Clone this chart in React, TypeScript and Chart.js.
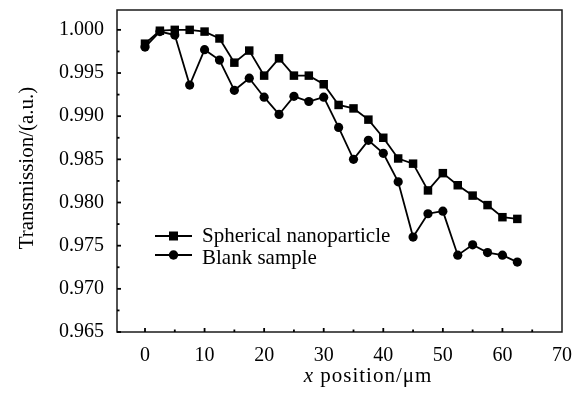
import React, { useEffect, useRef } from 'react';
import { Chart, registerables } from 'chart.js';

Chart.register(...registerables);

const xPositions = [0, 2.5, 5, 7.5, 10, 12.5, 15, 17.5, 20, 22.5, 25, 27.5, 30, 32.5, 35, 37.5, 40, 42.5, 45, 47.5, 50, 52.5, 55, 57.5, 60, 62.5];
const sphericalValues = [0.9984, 0.9999, 1.0000, 1.0000, 0.9998, 0.9990, 0.9962, 0.9976, 0.9947, 0.9967, 0.9947, 0.9947, 0.9937, 0.9913, 0.9909, 0.9896, 0.9875, 0.9851, 0.9845, 0.9814, 0.9834, 0.9820, 0.9808, 0.9797, 0.9783, 0.9781];
const blankValues = [0.9980, 0.9998, 0.9994, 0.9936, 0.9977, 0.9965, 0.9930, 0.9944, 0.9922, 0.9902, 0.9923, 0.9917, 0.9922, 0.9887, 0.9850, 0.9872, 0.9857, 0.9824, 0.9760, 0.9787, 0.9790, 0.9739, 0.9751, 0.9742, 0.9739, 0.9731];
const seriesLabels = ['Spherical nanoparticle', 'Blank sample'];
const yTickValues = [0.965, 0.970, 0.975, 0.980, 0.985, 0.990, 0.995, 1.000];
const yTickLabels = ['0.965', '0.970', '0.975', '0.980', '0.985', '0.990', '0.995', '1.000'];
const xTickValues = [0, 10, 20, 30, 40, 50, 60, 70];
const xTickLabels = ['0', '10', '20', '30', '40', '50', '60', '70'];
const yAxisTitle = 'Transmission/(a.u.)';
const xAxisTitleItalic = 'x';
const xAxisTitleRest = ' position/\u03bcm';

const FONT = '"Liberation Serif", "Times New Roman", serif';

const decorPlugin = {
  id: 'decor',
  afterDraw(chart: any) {
    const ctx = chart.ctx;
    const { left, right, top, bottom } = chart.chartArea;
    const xs = chart.scales.x;
    const ys = chart.scales.y;
    ctx.save();
    // frame
    ctx.strokeStyle = '#1a1a1a';
    ctx.lineWidth = 1.5;
    ctx.strokeRect(left, top, right - left, bottom - top);
    // ticks (inside)
    ctx.lineWidth = 1.8;
    ctx.strokeStyle = '#000';
    for (let i = 0; i < yTickValues.length; i++) {
      const py = ys.getPixelForValue(yTickValues[i]);
      ctx.beginPath();
      ctx.moveTo(left, py);
      ctx.lineTo(left + 4, py);
      ctx.stroke();
      if (i < yTickValues.length - 1) {
        const my = ys.getPixelForValue((yTickValues[i] + yTickValues[i + 1]) / 2);
        ctx.beginPath();
        ctx.moveTo(left, my);
        ctx.lineTo(left + 2.5, my);
        ctx.stroke();
      }
    }
    for (let i = 0; i < xTickValues.length; i++) {
      const px = xs.getPixelForValue(xTickValues[i]);
      if (px < right - 2) {
        ctx.beginPath();
        ctx.moveTo(px, bottom);
        ctx.lineTo(px, bottom - 4);
        ctx.stroke();
      }
      if (i < xTickValues.length - 1) {
        const mx = xs.getPixelForValue((xTickValues[i] + xTickValues[i + 1]) / 2);
        ctx.beginPath();
        ctx.moveTo(mx, bottom);
        ctx.lineTo(mx, bottom - 2.5);
        ctx.stroke();
      }
    }
    // y title
    ctx.fillStyle = '#000';
    ctx.font = '21px ' + FONT;
    ctx.textAlign = 'center';
    ctx.textBaseline = 'middle';
    ctx.save();
    ctx.translate(27, (top + bottom) / 2 - 3);
    ctx.rotate(-Math.PI / 2);
    ctx.fillText(yAxisTitle, 0, 0);
    ctx.restore();
    // x title
    ctx.save();
    (ctx as any).letterSpacing = '1px';
    ctx.font = 'italic 21px ' + FONT;
    const wi = ctx.measureText(xAxisTitleItalic).width;
    ctx.font = '21px ' + FONT;
    const wr = ctx.measureText(xAxisTitleRest).width;
    const cx = 368;
    const ty = 382;
    const sx = cx - (wi + wr) / 2;
    ctx.textAlign = 'left';
    ctx.textBaseline = 'alphabetic';
    ctx.font = 'italic 21px ' + FONT;
    ctx.fillText(xAxisTitleItalic, sx, ty);
    ctx.font = '21px ' + FONT;
    ctx.fillText(xAxisTitleRest, sx + wi, ty);
    ctx.restore();
    // legend
    const lineRows = [236, 255];
    const textRows = [242, 264];
    chart.data.datasets.forEach((ds: any, i: number) => {
      const ry = lineRows[i];
      ctx.strokeStyle = '#000';
      ctx.lineWidth = 1.8;
      ctx.beginPath();
      ctx.moveTo(155, ry);
      ctx.lineTo(192, ry);
      ctx.stroke();
      ctx.fillStyle = '#000';
      ctx.beginPath();
      if (ds.pointStyle === 'rect') {
        ctx.rect(173.5 - 4.5, ry - 4.5, 9, 9);
      } else {
        ctx.arc(173.5, ry, 4.7, 0, Math.PI * 2);
      }
      ctx.fill();
      ctx.font = '21px ' + FONT;
      ctx.textAlign = 'left';
      ctx.textBaseline = 'alphabetic';
      ctx.fillText(ds.label, 202, textRows[i]);
    });
    ctx.restore();
  },
};

export default function App() {
  const canvasRef = useRef<HTMLCanvasElement | null>(null);

  useEffect(() => {
    if (!canvasRef.current) return;
    const sph = xPositions.map((x, i) => ({ x, y: sphericalValues[i] }));
    const blk = xPositions.map((x, i) => ({ x, y: blankValues[i] }));
    const chart = new Chart(canvasRef.current, {
      type: 'line',
      data: {
        datasets: [
          {
            label: seriesLabels[0],
            data: sph,
            borderColor: '#000',
            backgroundColor: '#000',
            borderWidth: 1.8,
            pointStyle: 'rect',
            pointRadius: 6,
            pointBorderWidth: 0,
            tension: 0,
          },
          {
            label: seriesLabels[1],
            data: blk,
            borderColor: '#000',
            backgroundColor: '#000',
            borderWidth: 1.8,
            pointStyle: 'circle',
            pointRadius: 4.6,
            pointBorderWidth: 0,
            tension: 0,
          },
        ],
      },
      options: {
        responsive: false,
        animation: false,
        devicePixelRatio: 1,
        layout: { padding: { left: 0, top: 10, right: 24, bottom: 0 }, autoPadding: false },
        plugins: { legend: { display: false }, tooltip: { enabled: false } },
        scales: {
          x: {
            type: 'linear',
            min: -4.7,
            max: 70,
            afterBuildTicks: (axis: any) => {
              axis.ticks = xTickValues.map((v) => ({ value: v }));
            },
            afterFit: (scale: any) => {
              scale.height = 63;
              scale.paddingLeft = 0;
              scale.paddingRight = 0;
              scale.paddingTop = 0;
              scale.paddingBottom = 0;
            },
            grid: { display: false, drawTicks: false },
            border: { display: false },
            ticks: {
              autoSkip: false,
              maxRotation: 0,
              padding: 12,
              color: '#000',
              font: { family: FONT, size: 20 },
              callback: (v: any) => {
                const idx = xTickValues.indexOf(Number(v));
                return idx >= 0 ? xTickLabels[idx] : '';
              },
            },
          },
          y: {
            type: 'linear',
            min: 0.965,
            max: 1.0023,
            afterBuildTicks: (axis: any) => {
              axis.ticks = yTickValues.map((v) => ({ value: v }));
            },
            afterFit: (scale: any) => {
              scale.width = 117;
              scale.paddingLeft = 0;
              scale.paddingRight = 0;
              scale.paddingTop = 0;
              scale.paddingBottom = 0;
            },
            grid: { display: false, drawTicks: false },
            border: { display: false },
            ticks: {
              autoSkip: false,
              padding: 13,
              color: '#000',
              font: { family: FONT, size: 20 },
              callback: (v: any) => {
                const idx = yTickValues.findIndex((t) => Math.abs(t - Number(v)) < 1e-7);
                return idx >= 0 ? yTickLabels[idx] : '';
              },
            },
          },
        },
      },
      plugins: [decorPlugin],
    });
    return () => chart.destroy();
  }, []);

  return (
    <div style={{ position: 'fixed', left: 0, top: 0, width: 586, height: 395, background: '#fff' }}>
      <canvas ref={canvasRef} width={586} height={395} style={{ display: 'block' }} />
    </div>
  );
}
